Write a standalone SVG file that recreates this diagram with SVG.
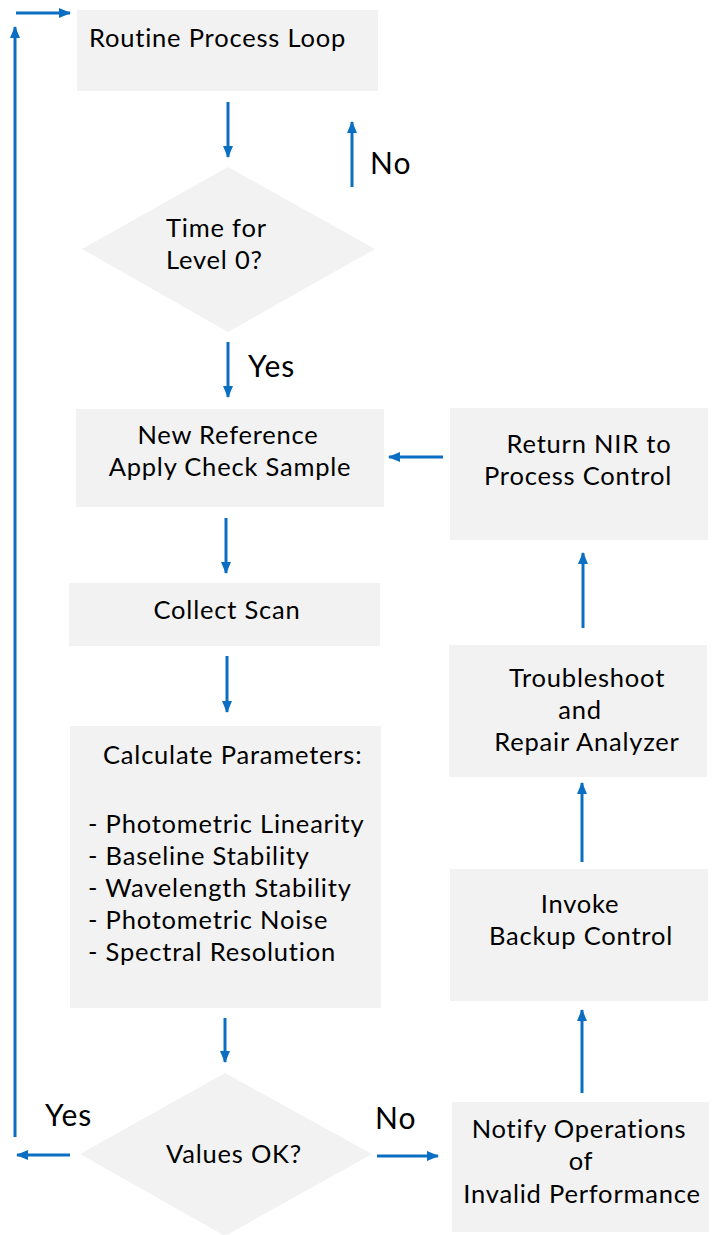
<svg xmlns="http://www.w3.org/2000/svg" width="717" height="1235" viewBox="0 0 717 1235">
<style>
.box{fill:#f2f2f2}
.t{font-family:Lato,"Noto Sans",sans-serif;font-size:25.5px;letter-spacing:0.8px;fill:#000}
.lbl{font-family:Lato,"Noto Sans",sans-serif;font-size:30px;letter-spacing:1px;fill:#000}
.c line{stroke:#0a6fc2;stroke-width:3;fill:none;marker-end:url(#ah)}
</style>
<defs>
<marker id="ah" markerUnits="userSpaceOnUse" markerWidth="12" markerHeight="12" refX="11" refY="6" orient="auto" viewBox="0 0 12 12">
<path d="M0,1 L12,6 L0,11 z" fill="#0a6fc2"/>
</marker>
</defs>
<rect width="717" height="1235" fill="#fff"/>
<g id="routine"><rect class="box" x="77" y="10" width="301" height="81"/><text class="t" x="89" y="47">Routine Process Loop</text></g>
<g id="time"><polygon class="box" points="228,167 375,249 228,332 82,249"/><text class="t" x="166" y="237">Time for</text><text class="t" x="166" y="269">Level 0?</text></g>
<g id="newref"><rect class="box" x="76" y="409" width="308" height="98"/><text class="t" text-anchor="middle" x="228" y="444">New Reference</text><text class="t" text-anchor="middle" x="230" y="476">Apply Check Sample</text></g>
<g id="collect"><rect class="box" x="69" y="583" width="311" height="63"/><text class="t" text-anchor="middle" x="227" y="619">Collect Scan</text></g>
<g id="calc"><rect class="box" x="70" y="726" width="311" height="282"/><text class="t" x="103" y="764">Calculate Parameters:</text>
<text class="t" x="88" y="833">- Photometric Linearity</text>
<text class="t" x="88" y="865">- Baseline Stability</text>
<text class="t" x="88" y="897">- Wavelength Stability</text>
<text class="t" x="88" y="929">- Photometric Noise</text>
<text class="t" x="88" y="961">- Spectral Resolution</text></g>
<g id="values"><polygon class="box" points="225,1073 372,1154 225,1236 80,1154"/><text class="t" text-anchor="middle" x="234" y="1163">Values OK?</text></g>
<g id="return"><rect class="box" x="450" y="408" width="258" height="132"/><text class="t" text-anchor="middle" x="589" y="453">Return NIR to</text><text class="t" text-anchor="middle" x="578" y="485">Process Control</text></g>
<g id="trouble"><rect class="box" x="449" y="645" width="258" height="132"/><text class="t" text-anchor="middle" x="587" y="687">Troubleshoot</text><text class="t" text-anchor="middle" x="580" y="719">and</text><text class="t" text-anchor="middle" x="587" y="751">Repair Analyzer</text></g>
<g id="invoke"><rect class="box" x="450" y="869" width="258" height="132"/><text class="t" text-anchor="middle" x="580" y="913">Invoke</text><text class="t" text-anchor="middle" x="581" y="945">Backup Control</text></g>
<g id="notify"><rect class="box" x="452" y="1102" width="257" height="130"/><text class="t" text-anchor="middle" x="579" y="1138">Notify Operations</text><text class="t" text-anchor="middle" x="581" y="1170">of</text><text class="t" text-anchor="middle" x="582" y="1203">Invalid Performance</text></g>
<g id="labels">
<text class="lbl" x="370" y="174">No</text>
<text class="lbl" x="248" y="377">Yes</text>
<text class="lbl" x="45" y="1126">Yes</text>
<text class="lbl" x="375" y="1129">No</text>
</g>
<g id="connectors" class="c">
<line x1="228" y1="102" x2="228" y2="157"/>
<line x1="352" y1="187" x2="352" y2="122"/>
<line x1="228" y1="342" x2="228" y2="397"/>
<line x1="443" y1="457" x2="389" y2="457"/>
<line x1="226" y1="518" x2="226" y2="573"/>
<line x1="227" y1="656" x2="227" y2="712"/>
<line x1="225" y1="1018" x2="225" y2="1062"/>
<line x1="377" y1="1156" x2="438" y2="1156"/>
<line x1="582" y1="1093" x2="582" y2="1010"/>
<line x1="582" y1="862" x2="582" y2="783"/>
<line x1="583" y1="628" x2="583" y2="553"/>
<line x1="70" y1="1155" x2="17" y2="1155"/>
<line x1="15" y1="1137" x2="15" y2="27"/>
<line x1="16" y1="13" x2="70" y2="13"/>
</g>
</svg>
